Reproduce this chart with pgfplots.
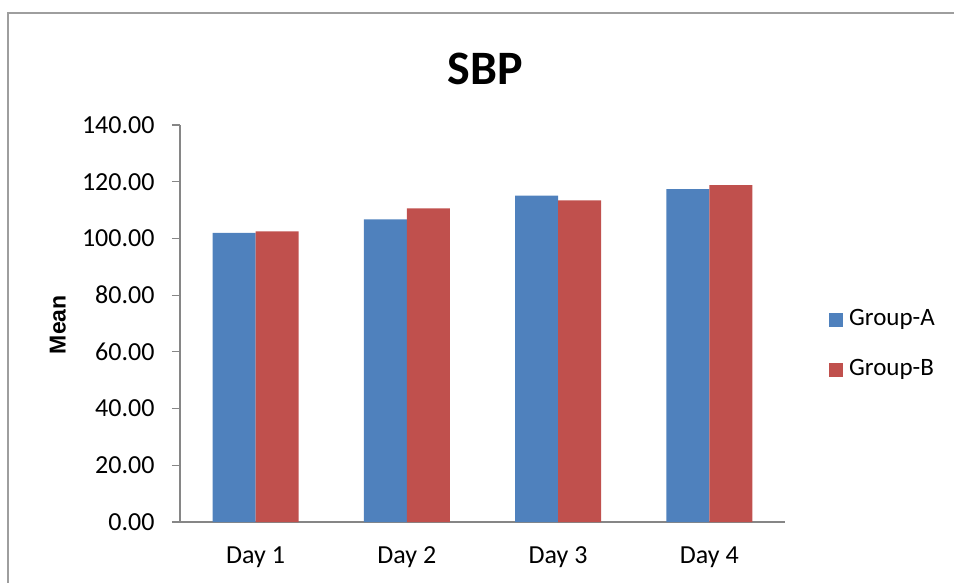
\documentclass[border=0pt]{standalone}
\usepackage{fontspec}
\setmainfont{Carlito}
\newfontfamily\arialfont{Liberation Sans}
\usepackage{pgfplots}
\pgfplotsset{compat=1.18}
\definecolor{grpA}{HTML}{4F81BD}
\definecolor{grpB}{HTML}{C0504D}
\definecolor{axgray}{HTML}{868686}
\begin{document}
\begin{tikzpicture}
\useasboundingbox (0,0) rectangle (954pt,582pt);
\draw[axgray!80, line width=1.5pt] (8pt,-10pt) -- (8pt,569pt) -- (970pt,569pt);
\begin{axis}[
  at={(180pt,60pt)}, anchor=south west,
  scale only axis, width=605pt, height=397pt,
  ybar=0pt, bar width=43pt,
  xmin=-0.5, xmax=3.5, ymin=0, ymax=140,
  xtick={0,1,2,3}, xticklabels={Day 1,Day 2,Day 3,Day 4},
  ytick={0,20,...,140},
  axis x line*=bottom, axis y line*=left,
  axis line style={axgray, line width=1.2pt},
  x axis line style={-}, y axis line style={-},
  major x tick style={draw=none},
  major y tick style={axgray, line width=1.2pt},
  major tick length=8pt, tick align=outside,
  y tick label style={/pgf/number format/fixed, /pgf/number format/fixed zerofill, /pgf/number format/precision=2, /pgf/number format/assume math mode=true},
  tick label style={font=\fontsize{26}{30}\selectfont},
  yticklabel style={xshift=-14pt},
  xticklabel style={yshift=-13pt},
  ylabel={Mean},
  every axis y label/.style={at={(axis description cs:-0.202,0.497)}, rotate=90, anchor=center, font=\arialfont\bfseries\fontsize{23}{27}\selectfont},
  legend style={draw=none, fill=none, at={(1.0727,0.447)}, anchor=west,
     font=\fontsize{25}{30}\selectfont, row sep=23pt, inner sep=0pt,
     nodes={inner xsep=6pt, inner ysep=2pt, text height=17pt, text depth=6pt}},
  legend cell align=left,
  legend image code/.code={\fill[#1] (0pt,-7pt) rectangle (14pt,7pt);},
  clip=false,
]
\addplot[fill=grpA, draw=none] coordinates {(0,102.0) (1,106.7) (2,115.1) (3,117.4)};
\addplot[fill=grpB, draw=none] coordinates {(0,102.5) (1,110.6) (2,113.4) (3,118.8)};
\legend{Group-A,Group-B}
\end{axis}
\node[anchor=base, font=\bfseries\fontsize{48}{56}\selectfont] at (485pt,497pt) {SBP};
\end{tikzpicture}
\end{document}
